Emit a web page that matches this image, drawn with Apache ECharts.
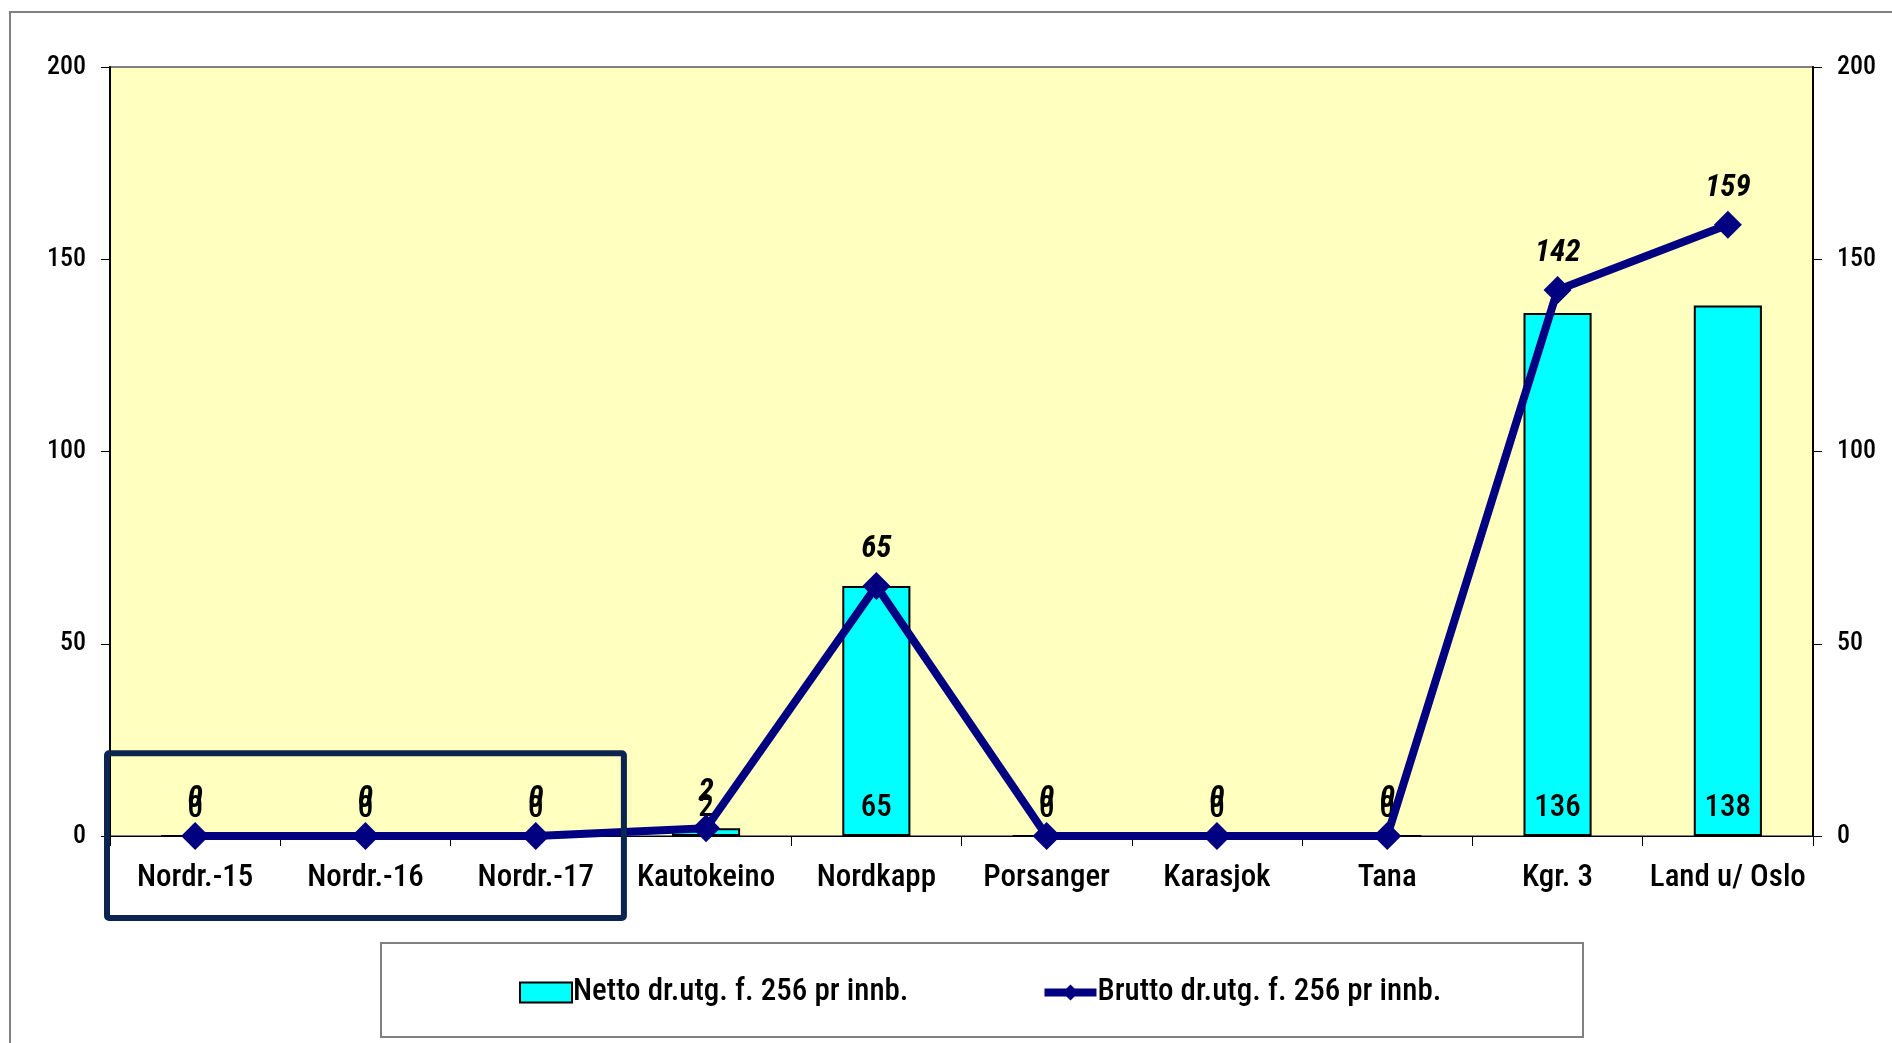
<!DOCTYPE html>
<html>
<head>
<meta charset="utf-8">
<script src="https://cdn.jsdelivr.net/npm/echarts@6/dist/echarts.min.js"></script>
<style>
html,body{margin:0;padding:0;background:#fff;}
#c{width:1892px;height:1043px;}
</style>
</head>
<body>
<div id="c"></div>
<script>
var categories = ['Nordr.-15','Nordr.-16','Nordr.-17','Kautokeino','Nordkapp','Porsanger','Karasjok','Tana','Kgr. 3','Land u/ Oslo'];
var nettoValues = [0,0,0,2,65,0,0,0,136,138];
var bruttoValues = [0,0,0,2,65,0,0,0,142,159];
var yTicks = [0,50,100,150,200];
var seriesNames = ['Netto dr.utg. f. 256 pr innb.','Brutto dr.utg. f. 256 pr innb.'];

var FONT = '"Roboto Condensed","Liberation Sans Narrow","Arial Narrow",sans-serif';
var W = 500;
var chart = echarts.init(document.getElementById('c'), null, {renderer:'canvas'});

var yAxisBase = {
  type:'value', min:yTicks[0], max:yTicks[yTicks.length-1], interval:50,
  axisLine:{show:true, lineStyle:{color:'#000', width:2}},
  axisTick:{show:true, length:9, lineStyle:{color:'#000', width:1}},
  splitLine:{show:false},
  axisLabel:{fontFamily:FONT, fontSize:26, fontWeight:W, color:'#000', margin:24}
};

var option = {
  animation:false,
  backgroundColor:'#fff',
  grid:{left:110, right:79, top:67, bottom:207, show:true, backgroundColor:'#FFFFC0', borderColor:'#808080', borderWidth:2},
  legend:{
    left:519, top:977, padding:0, itemGap:132, itemWidth:52, itemHeight:20,
    textStyle:{fontFamily:FONT, fontSize:31, fontWeight:W, color:'#000', padding:[0,0,0,-4]},
    data:[
      {name:seriesNames[0], icon:'rect', itemStyle:{color:'#00FFFF', borderColor:'#000', borderWidth:2}},
      {name:seriesNames[1], lineStyle:{color:'#000080', width:8}, itemStyle:{color:'#000080'}}
    ]
  },
  xAxis:{
    type:'category', data:categories,
    axisLine:{show:true, lineStyle:{color:'#000', width:1}},
    axisTick:{show:true, length:10, interval:0, alignWithLabel:false, lineStyle:{color:'#000'}},
    axisLabel:{fontFamily:FONT, fontSize:31, fontWeight:W, color:'#000', margin:27, interval:0}
  },
  yAxis:[
    Object.assign({}, yAxisBase, {position:'left'}),
    Object.assign({}, yAxisBase, {position:'right'})
  ],
  series:[
    {
      name:seriesNames[0], type:'bar', data:nettoValues, barWidth:'40%',
      itemStyle:{color:'#00FFFF', borderColor:'#000', borderWidth:2},
      label:{show:true, position:'insideBottom', distance:12, fontFamily:FONT, fontSize:31, fontWeight:W, color:'#000'},
      z:2
    },
    {
      name:seriesNames[1], type:'line', data:bruttoValues,
      lineStyle:{color:'#000080', width:8},
      itemStyle:{color:'#000080'},
      symbol:'diamond', symbolSize:28,
      label:{show:true, position:'top', distance:7, fontFamily:FONT, fontSize:31, fontStyle:'italic', fontWeight:'bold', color:'#000'},
      z:3
    }
  ],
  graphic:[
    {type:'rect', shape:{x:10, y:12, width:1900, height:1100}, style:{fill:null, stroke:'#808080', lineWidth:2}, z:0, silent:true},
    {type:'rect', shape:{x:381, y:943, width:1202, height:94}, style:{fill:null, stroke:'#808080', lineWidth:2}, z:0, silent:true}
  ]
};
chart.setOption(option);

// highlight box around the first three categories
var c0 = chart.convertToPixel({xAxisIndex:0}, categories[0]);
var c1 = chart.convertToPixel({xAxisIndex:0}, categories[1]);
var band = c1 - c0;
var x0 = c0 - band/2 - 3;
var x1 = chart.convertToPixel({xAxisIndex:0}, categories[2]) + band/2 + 3;
var yTop = chart.convertToPixel({yAxisIndex:0}, 21.5);
var yBot = 918;
option.graphic.push({type:'rect', shape:{x:x0, y:yTop, width:x1-x0, height:yBot-yTop, r:2}, style:{fill:null, stroke:'#0C2450', lineWidth:6}, z:100, silent:true});
chart.setOption({graphic:option.graphic});
</script>
</body>
</html>
